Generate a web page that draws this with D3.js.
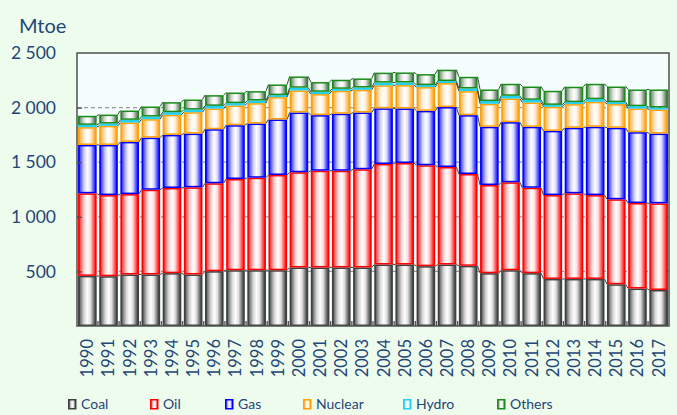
<!DOCTYPE html>
<html>
<head>
<meta charset="utf-8">
<script src="https://cdn.jsdelivr.net/npm/d3@7"></script>
<style>
  html, body { margin: 0; padding: 0; background: #eefcee; }
  svg { display: block; font-family: Lato, "Open Sans", sans-serif; }
</style>
</head>
<body>
<svg width="677" height="415"></svg>
<script>
const years = [1990, 1991, 1992, 1993, 1994, 1995, 1996, 1997, 1998, 1999,
  2000, 2001, 2002, 2003, 2004, 2005, 2006, 2007, 2008, 2009,
  2010, 2011, 2012, 2013, 2014, 2015, 2016, 2017];
const coal = [459, 456, 472, 472, 484, 472, 502, 511, 511, 511,
  536, 536, 536, 536, 563, 563, 548, 563, 551, 484,
  511, 484, 431, 431, 431, 382, 343, 330];
const oil = [756, 743, 736, 776, 780, 798, 805, 835, 847, 872,
  872, 886, 886, 899, 921, 930, 924, 893, 841, 807,
  805, 782, 768, 784, 768, 778, 783, 793];
const gas = [443, 459, 478, 477, 486, 492, 495, 493, 496, 508,
  547, 509, 522, 520, 509, 499, 498, 549, 539, 533,
  551, 558, 588, 600, 625, 655, 649, 639];
const nuclear = [163, 175, 177, 169, 184, 196, 189, 180, 187, 205,
  202, 193, 210, 208, 211, 214, 218, 220, 220, 211,
  216, 223, 220, 217, 229, 217, 216, 220];
const hydro = [21, 21, 25, 24, 24, 24, 25, 22, 24, 18,
  25, 21, 18, 21, 25, 24, 18, 18, 24, 25,
  25, 24, 18, 18, 24, 18, 22, 19];
const others = [83, 82, 85, 92, 92, 92, 98, 97, 86, 98,
  103, 89, 83, 83, 91, 92, 101, 104, 107, 106,
  110, 122, 129, 141, 141, 143, 153, 165];
const yTicks = [500, 1000, 1500, 2000, 2500];

const seriesKeys = ["Coal", "Oil", "Gas", "Nuclear", "Hydro", "Others"];
const seriesValues = [coal, oil, gas, nuclear, hydro, others];
const strokeColors = ["#404040", "#ff0000", "#0000ff", "#ffa000", "#22d0f0", "#1a8c1a"];
const fillColors = ["#333333", "#ff0000", "#0000ff", "#ff9a10", "#22d0f0", "#4a664a"];

const table = years.map((yr, i) => {
  const row = { year: yr };
  seriesKeys.forEach((k, j) => (row[k] = seriesValues[j][i]));
  return row;
});
const stacked = d3.stack().keys(seriesKeys)(table);

const svg = d3.select("svg");
const plotL = 77, plotR = 669, plotT = 53, plotB = 326;
const textColor = "#1f4676";

const x = d3.scaleBand().domain(years).range([plotL, plotR])
  .paddingInner(0.12).paddingOuter(0.05);
const y = d3.scaleLinear().domain([0, 2500]).range([plotB, plotT]);

// gradients: dark edges, white middle
const defs = svg.append("defs");
seriesKeys.forEach((k, j) => {
  const g = defs.append("linearGradient").attr("id", "grad" + j)
    .attr("x1", 0).attr("x2", 1).attr("y1", 0).attr("y2", 0);
  const mix = d3.interpolateRgb(fillColors[j], "#ffffff");
  [[0, 0], [0.1, 0.35], [0.3, 0.8], [0.5, 1], [0.68, 0.85], [0.88, 0.3], [1, 0]]
    .forEach(([o, t]) => g.append("stop").attr("offset", o).attr("stop-color", mix(t)));
});

// plot background
svg.append("rect").attr("x", plotL).attr("y", plotT)
  .attr("width", plotR - plotL).attr("height", plotB - plotT)
  .attr("fill", "#f3fefd");

// grid
svg.append("g").selectAll("line").data(yTicks.slice(0, -1)).join("line")
  .attr("x1", plotL).attr("x2", plotR)
  .attr("y1", d => y(d)).attr("y2", d => y(d))
  .attr("stroke", "#9a9a9a").attr("stroke-width", 1.3)
  .attr("stroke-dasharray", "4,3");

// bars
const bw = x.bandwidth();
svg.append("g").selectAll("g").data(stacked).join("g")
  .each(function (layer, j) {
    d3.select(this).selectAll("rect").data(layer).join("rect")
      .attr("x", d => x(d.data.year) + 0.75)
      .attr("width", bw - 1.5)
      .attr("y", d => y(d[1]) + 0.75)
      .attr("height", d => Math.max(0, y(d[0]) - y(d[1]) - 1.5))
      .attr("fill", `url(#grad${j})`)
      .attr("stroke", strokeColors[j])
      .attr("stroke-width", 1.5);
  });

// series lines
svg.append("g").selectAll("path").data(stacked).join("path")
  .attr("fill", "none").attr("stroke", "#404040").attr("stroke-width", 1)
  .attr("d", layer => layer.slice(0, -1).map((d, i) => {
    const n = layer[i + 1];
    return `M${x(d.data.year) + bw},${y(d[1])}L${x(n.data.year)},${y(n[1])}`;
  }).join(""));

// frame
svg.append("rect").attr("x", plotL).attr("y", plotT)
  .attr("width", plotR - plotL).attr("height", plotB - plotT)
  .attr("fill", "none").attr("stroke", "#505050").attr("stroke-width", 1.5);

// y ticks and labels
const yAxis = svg.append("g").attr("transform", `translate(${plotL},0)`)
  .call(d3.axisRight(y).tickValues(yTicks.slice(0, -1)).tickSize(5).tickFormat(""));
yAxis.select(".domain").remove();
yAxis.selectAll("line").attr("stroke", "#505050").attr("stroke-width", 1.3);

svg.append("g").selectAll("text").data(yTicks).join("text")
  .attr("x", 56).attr("y", d => y(d)).attr("dy", "0.35em")
  .attr("text-anchor", "end").attr("fill", textColor)
  .attr("font-size", 17.5).text(d => d3.format(",")(d).replace(",", " "));

svg.append("text").attr("x", 19).attr("y", 33).attr("fill", textColor)
  .attr("font-size", 20).text("Mtoe");

// x ticks (between categories)
const step = x.step();
svg.append("g").selectAll("line").data(years.slice(1)).join("line")
  .attr("x1", d => x(d) - (step - bw) / 2).attr("x2", d => x(d) - (step - bw) / 2)
  .attr("y1", plotB).attr("y2", plotB - 5)
  .attr("stroke", "#505050").attr("stroke-width", 1.3);

svg.append("g").selectAll("text").data(years).join("text")
  .attr("transform", d => `translate(${x(d) + bw / 2},339) rotate(-90)`)
  .attr("dy", "0.36em").attr("text-anchor", "end")
  .attr("fill", textColor).attr("font-size", 16.5).text(d => d);

// legend
const legendX = [68, 150, 225, 303, 403, 497];
const legend = svg.append("g").selectAll("g").data(seriesKeys).join("g")
  .attr("transform", (d, i) => `translate(${legendX[i]},399)`);
legend.append("rect").attr("x", 0.75).attr("y", 0.75)
  .attr("width", 7).attr("height", 9)
  .attr("fill", (d, i) => `url(#grad${i})`)
  .attr("stroke", (d, i) => strokeColors[i]).attr("stroke-width", 1.5);
legend.append("text").attr("x", 13).attr("y", 5.5).attr("dy", "0.35em")
  .attr("fill", textColor).attr("font-size", 14).text(d => d);
</script>
</body>
</html>
